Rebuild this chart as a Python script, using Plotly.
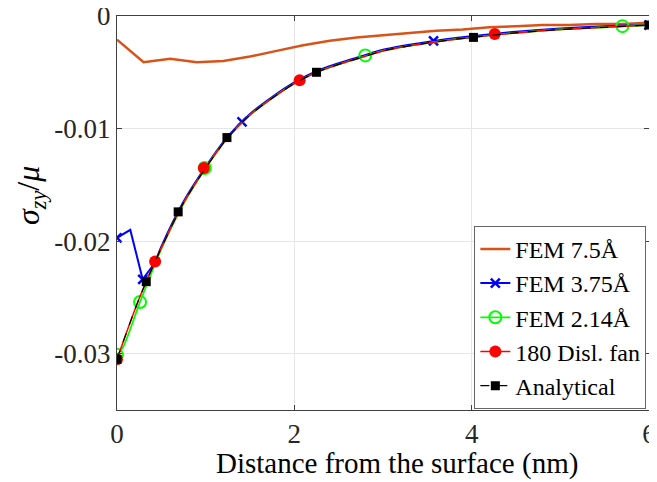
import plotly.graph_objects as go

# ---------------- data ----------------
# Analytical curve
x_an = [0, 0.25, 0.5, 0.75, 1.0, 1.25, 1.5, 1.75, 2.0, 2.25, 2.5, 2.75, 3.0, 3.5, 4.0, 4.5, 5.0, 5.5, 6.0]
y_an = [-0.0305, -0.0251, -0.0206, -0.0166, -0.0135, -0.0108, -0.0088, -0.0073, -0.0060, -0.0050,
        -0.0043, -0.0037, -0.0031, -0.0024, -0.0019, -0.0015, -0.0012, -0.0010, -0.0008]
x_an_m = [0, 0.33, 0.69, 1.24, 2.25, 4.02, 6.0]
y_an_m = [-0.0305, -0.0236, -0.0174, -0.0108, -0.0050, -0.0019, -0.0008]

# 180 dislocation fan
x_fan = x_an
y_fan = y_an
x_fan_m = [0, 0.43, 0.98, 2.06, 4.26]
y_fan_m = [-0.0305, -0.0218, -0.0135, -0.0057, -0.0016]

# FEM 2.14 A
x_f214 = [0, 0.07, 0.26, 0.5, 0.75, 1.0, 1.25, 1.5, 1.75, 2.0, 2.25, 2.5, 2.75, 3.0, 3.5, 4.0, 4.5, 5.0, 5.5, 6.0]
y_f214 = [-0.0301, -0.0294, -0.0254, -0.0207, -0.0167, -0.0135, -0.0108, -0.0088, -0.0073, -0.0060,
          -0.0050, -0.0043, -0.0037, -0.0031, -0.0024, -0.0019, -0.0015, -0.0012, -0.0010, -0.0008]
x_f214_m = [0, 0.26, 0.99, 2.8, 5.7]
y_f214_m = [-0.0301, -0.0254, -0.0135, -0.0035, -0.0009]

# FEM 3.75 A (near-surface part, then smooth part)
x_f375_a = [0, 0.15, 0.29, 0.43]
y_f375_a = [-0.0197, -0.0190, -0.0234, -0.0219]
x_f375_b = [0.43, 0.5, 0.75, 1.0, 1.25, 1.5, 1.75, 2.0, 2.25, 2.5, 2.75, 3.0, 3.5, 4.0, 4.5, 5.0, 5.5, 6.0]
y_f375_b = [-0.0219, -0.0205, -0.0165, -0.0134, -0.0107, -0.0087, -0.0072, -0.0059, -0.0049,
            -0.0042, -0.0036, -0.0030, -0.0023, -0.0018, -0.0014, -0.0011, -0.0009, -0.0008]
x_f375_m = [0, 0.29, 1.41, 3.57, 6.0]
y_f375_m = [-0.0197, -0.0234, -0.0094, -0.0022, -0.0008]

# FEM 7.5 A
x_f75 = [0, 0.3, 0.6, 0.9, 1.2, 1.5, 1.8, 2.1, 2.4, 2.7, 3.0, 3.3, 3.6, 3.9, 4.2, 4.5, 4.8, 5.1, 5.4, 5.7, 6.0]
y_f75 = [-0.0021, -0.0041, -0.0038, -0.0041, -0.0040, -0.0036, -0.0031, -0.0026, -0.0022, -0.0019,
         -0.0017, -0.0015, -0.0013, -0.0012, -0.0010, -0.0009, -0.0008, -0.0008, -0.0007, -0.0007, -0.0006]

x_ticks = [0, 2, 4, 6]
y_ticks = [0, -0.01, -0.02, -0.03]
y_tick_text = ["0", "-0.01", "-0.02", "-0.03"]

names = ["FEM 7.5Å", "FEM 3.75Å", "FEM 2.14Å", "180 Disl. fan", "Analytical"]

# ---------------- styles ----------------
C_OR = "#D95319"
C_BL = "#0000FF"
C_GR = "#00FF00"
C_RD = "#FF0000"
C_BK = "#000000"
FONT = "Liberation Serif"

fig = go.Figure()

def legend_entry(name, line, marker, mode, grp):
    fig.add_trace(go.Scatter(x=[None], y=[None], mode=mode, name=name, line=line,
                             marker=marker, showlegend=True, legendgroup=grp))

# FEM 7.5
fig.add_trace(go.Scatter(x=x_f75, y=y_f75, mode="lines", line=dict(color=C_OR, width=2.5),
                         showlegend=False, legendgroup="g1"))
legend_entry(names[0], dict(color=C_OR, width=2.5), dict(), "lines", "g1")

# FEM 3.75
fig.add_trace(go.Scatter(x=x_f375_a, y=y_f375_a, mode="lines", line=dict(color=C_BL, width=2),
                         showlegend=False, legendgroup="g2"))
fig.add_trace(go.Scatter(x=x_f375_b, y=y_f375_b, mode="lines", line=dict(color=C_BL, width=2, shape="spline", smoothing=0.8),
                         showlegend=False, legendgroup="g2"))
m_bl = dict(symbol="x-thin", size=9, color=C_BL, line=dict(color=C_BL, width=2.5))
fig.add_trace(go.Scatter(x=x_f375_m, y=y_f375_m, mode="markers", marker=m_bl,
                         showlegend=False, legendgroup="g2"))
legend_entry(names[1], dict(color=C_BL, width=2), m_bl, "lines+markers", "g2")

# FEM 2.14
fig.add_trace(go.Scatter(x=x_f214, y=y_f214, mode="lines", line=dict(color=C_GR, width=1.8, shape="spline", smoothing=0.8),
                         showlegend=False, legendgroup="g3"))
m_gr = dict(symbol="circle-open", size=12, color=C_GR, line=dict(color=C_GR, width=2))
fig.add_trace(go.Scatter(x=x_f214_m, y=y_f214_m, mode="markers", marker=m_gr,
                         showlegend=False, legendgroup="g3"))
legend_entry(names[2], dict(color=C_GR, width=1.8), m_gr, "lines+markers", "g3")

# 180 Disl. fan
fig.add_trace(go.Scatter(x=x_fan, y=y_fan, mode="lines", line=dict(color=C_RD, width=1.5, shape="spline", smoothing=0.8),
                         showlegend=False, legendgroup="g4"))
m_rd = dict(symbol="circle", size=12, color=C_RD, line=dict(width=0))
fig.add_trace(go.Scatter(x=x_fan_m, y=y_fan_m, mode="markers", marker=m_rd,
                         showlegend=False, legendgroup="g4"))
legend_entry(names[3], dict(color=C_RD, width=1.5), m_rd, "lines+markers", "g4")

# Analytical
fig.add_trace(go.Scatter(x=x_an, y=y_an, mode="lines", line=dict(color=C_BK, width=1.2, dash="dash", shape="spline", smoothing=0.8),
                         showlegend=False, legendgroup="g5"))
m_bk = dict(symbol="square", size=9, color=C_BK, line=dict(width=0))
fig.add_trace(go.Scatter(x=x_an_m, y=y_an_m, mode="markers", marker=m_bk,
                         showlegend=False, legendgroup="g5"))
legend_entry(names[4], dict(color=C_BK, width=1.2, dash="dash"), m_bk, "lines+markers", "g5")

axis_common = dict(showgrid=True, gridcolor="#E6E6E6", gridwidth=1, zeroline=False,
                   showline=True, linecolor="#404040", linewidth=1, mirror="ticks",
                   ticks="inside", ticklen=5, tickcolor="#404040", automargin=False,
                   ticklabeloverflow="allow",
                   tickfont=dict(family=FONT, size=27, color="#262626"))

fig.update_xaxes(range=[0, 6], tickvals=x_ticks, ticktext=[str(v) for v in x_ticks], **axis_common)
fig.update_yaxes(range=[-0.035, 0], tickvals=y_ticks, ticktext=y_tick_text, **axis_common)

# the page body has an 8px margin, so the figure is shrunk/shifted by 8px
fig.update_layout(
    width=649, height=474,
    margin=dict(l=109, r=8, t=8, b=72, autoexpand=False),
    paper_bgcolor="white", plot_bgcolor="white",
    font=dict(family=FONT, color="#262626"),
    showlegend=True,
    legend=dict(x=0.995, y=0.003, xanchor="right", yanchor="bottom",
                bgcolor="white", bordercolor="#666666", borderwidth=1,
                font=dict(family=FONT, size=24, color="#000000"),
                tracegroupgap=0, itemwidth=30),
    annotations=[
        dict(text="Distance from the surface (nm)", xref="paper", yref="paper",
             x=0.526, y=-0.137, xanchor="center", yanchor="middle", showarrow=False,
             font=dict(family=FONT, size=29, color="#000000")),
        dict(text="<i>σ</i><sub><i>zy</i></sub>/<i>μ</i>", xref="paper", yref="paper",
             x=-0.1635, y=0.543, xanchor="center", yanchor="middle", showarrow=False,
             textangle=-90, font=dict(family=FONT, size=32, color="#000000")),
    ],
)

fig.write_html("out.html")
